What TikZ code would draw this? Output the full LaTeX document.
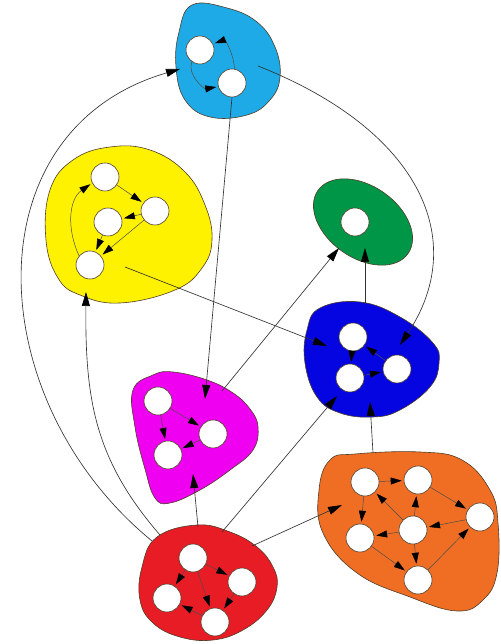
\documentclass[tikz,border=0pt]{standalone}
\usetikzlibrary{arrows.meta}

\definecolor{blobcyan}{RGB}{30,170,230}
\definecolor{blobyellow}{RGB}{255,242,0}
\definecolor{blobgreen}{RGB}{0,150,72}
\definecolor{blobblue}{RGB}{5,5,225}
\definecolor{blobmagenta}{RGB}{240,0,240}
\definecolor{blobred}{RGB}{232,28,36}
\definecolor{bloborange}{RGB}{240,110,35}
\definecolor{rim}{RGB}{80,60,40}

\begin{document}
\begin{tikzpicture}[x=1pt, y=1pt,
  vert/.style={circle, draw=rim, fill=white, line width=0.6pt, minimum size=28pt, inner sep=0pt},
  blob/.style={draw=rim, line width=0.6pt},
  arc/.style={draw=black!70, line width=0.5pt, -{Triangle[length=11pt,width=7pt,color=black]}, shorten >=2pt},
  link/.style={draw=black!80, line width=0.65pt, -{Triangle[length=14pt,width=8pt,color=black]}}]

  \useasboundingbox (0,0) rectangle (500,644);

  % Components (outlines)
  \filldraw[blob, fill=blobcyan] plot[smooth cycle, tension=0.7] coordinates {
    (192,639) (227,636) (257,622) (275,597) (280,567) (270,544)
    (247,529) (210,527) (185,544) (176,577) (179,612)};
  \filldraw[blob, fill=blobyellow] plot[smooth cycle, tension=0.7] coordinates {
    (110,497) (150,494) (185,472) (205,439) (212,404) (202,376) (175,354)
    (120,341) (80,349) (58,366) (46,404) (50,454) (73,484)};
  \filldraw[blob, fill=blobgreen, rotate around={-35:(363,422)}]
    (363,422) ellipse [x radius=55, y radius=36];
  \filldraw[blob, fill=blobblue] plot[smooth cycle, tension=0.7] coordinates {
    (320,336) (360,342) (400,327) (433,301) (439,281) (430,257)
    (400,234) (373,227) (340,231) (317,247) (305,281) (307,314)};
  \filldraw[blob, fill=blobmagenta] plot[smooth cycle, tension=0.7] coordinates {
    (133,254) (153,269) (173,272) (207,264) (233,251) (250,235) (258,217)
    (253,194) (230,174) (200,154) (170,141) (155,146) (145,175) (135,217)};
  \filldraw[blob, fill=blobred] plot[smooth cycle, tension=0.7] coordinates {
    (157,107) (197,119) (230,112) (257,97) (273,77) (277,57) (267,34)
    (243,14) (213,4) (180,7) (153,21) (140,44) (142,77)};
  \filldraw[blob, fill=bloborange] plot[smooth cycle, tension=0.7] coordinates {
    (330,184) (355,190) (420,192) (462,184) (490,154) (498,121) (497,71)
    (483,44) (457,33) (410,47) (357,71) (323,111) (319,154)};

  % Vertices
  \node[vert] (cy1) at (200,594) {};
  \node[vert] (cy2) at (232,561) {};

  \node[vert] (ye1) at (105,467) {};
  \node[vert] (ye2) at (155,433) {};
  \node[vert] (ye3) at (108,422) {};
  \node[vert] (ye4) at (90,379) {};

  \node[vert] (gr1) at (355,422) {};

  \node[vert] (bl1) at (353,307) {};
  \node[vert] (bl2) at (350,266) {};
  \node[vert] (bl3) at (397,275) {};

  \node[vert] (ma1) at (158,243) {};
  \node[vert] (ma2) at (213,210) {};
  \node[vert] (ma3) at (168,189) {};

  \node[vert] (rd1) at (193,86) {};
  \node[vert] (rd2) at (242,62) {};
  \node[vert] (rd3) at (167,46) {};
  \node[vert] (rd4) at (215,22) {};

  \node[vert] (or1) at (365,162) {};
  \node[vert] (or2) at (418,164) {};
  \node[vert] (or3) at (480,127) {};
  \node[vert] (or4) at (413,114) {};
  \node[vert] (or5) at (360,106) {};
  \node[vert] (or6) at (418,64) {};

  % Edges inside the components
  \draw[arc] (cy2.80) to[out=90, in=20] (cy1.25);
  \draw[arc] (cy1.235) to[out=250, in=190] (cy2.195);

  \draw[arc] (ye1) -- (ye2);
  \draw[arc] (ye2) -- (ye3);
  \draw[arc] (ye3) -- (ye4);
  \draw[arc] (ye2) -- (ye4);
  \draw[arc] (ye4.140) to[out=115, in=215] (ye1.205);

  \draw[arc] (bl1) -- (bl2);
  \draw[arc] (bl2) -- (bl3);
  \draw[arc] (bl3) -- (bl1);

  \draw[arc] (ma1) -- (ma3);
  \draw[arc] (ma1) -- (ma2);
  \draw[arc] (ma2) -- (ma3);

  \draw[arc] (rd1) -- (rd2);
  \draw[arc] (rd1) -- (rd3);
  \draw[arc] (rd1) -- (rd4);
  \draw[arc] (rd2) -- (rd4);
  \draw[arc] (rd4) -- (rd3);

  \draw[arc] (or1) -- (or2);
  \draw[arc] (or1) -- (or5);
  \draw[arc] (or2) -- (or3);
  \draw[arc] (or4) -- (or2);
  \draw[arc] (or4) -- (or1);
  \draw[arc] (or4) -- (or5);
  \draw[arc] (or3) -- (or4);
  \draw[arc] (or4) -- (or6);
  \draw[arc] (or5) -- (or6);
  \draw[arc] (or6) -- (or3);

  % Ends of the edges between components
  \coordinate (rdA) at (152,103);
  \coordinate (rdB) at (160,109);
  \coordinate (rdC) at (198,117);
  \coordinate (rdD) at (222,112);
  \coordinate (rdE) at (252,98);
  \coordinate (cyRim) at (258,578);
  \coordinate (cyIn) at (180,575);
  \coordinate (yeIn) at (86,352);
  \coordinate (yeOut) at (125,377);
  \coordinate (maIn) at (193,170);
  \coordinate (maTop) at (205,245);
  \coordinate (maOut) at (222,253);
  \coordinate (grInA) at (339,396);
  \coordinate (grInB) at (365,396);
  \coordinate (blOut) at (365,340);
  \coordinate (blInA) at (327,298);
  \coordinate (blInB) at (400,299);
  \coordinate (blInC) at (337,248);
  \coordinate (blInD) at (370,242);
  \coordinate (orOut) at (373,191);
  \coordinate (orIn) at (342,139);

  % Edges between components
  \draw[link] (rdA) .. controls (-20,244) and (-30,514) .. (cyIn);
  \draw[link] (rdB) .. controls (95,184) and (85,244) .. (yeIn);
  \draw[link] (rdC) -- (maIn);
  \draw[link] (rdD) -- (blInC);
  \draw[link] (rdE) -- (orIn);
  \draw[link] (cy2.south) -- (maTop);
  \draw[link] (cyRim) .. controls (420,514) and (470,404) .. (blInB);
  \draw[link] (yeOut) -- (blInA);
  \draw[link] (maOut) -- (grInA);
  \draw[link] (blOut) -- (grInB);
  \draw[link] (orOut) -- (blInD);

\end{tikzpicture}
\end{document}
